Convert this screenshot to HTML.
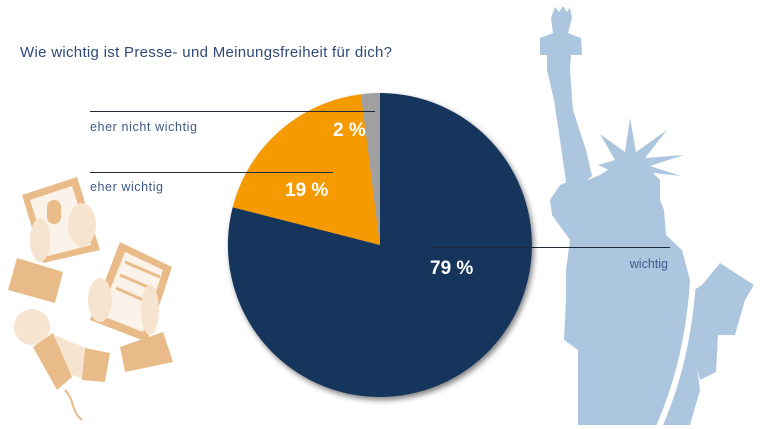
<!DOCTYPE html>
<html><head><meta charset="utf-8"><style>
body{margin:0;background:#fff}
svg{display:block}
text{font-family:"Liberation Sans",sans-serif}
</style></head><body>
<svg width="760" height="429" viewBox="0 0 760 429" xmlns="http://www.w3.org/2000/svg">
<defs><filter id="sh" x="-20%" y="-20%" width="140%" height="140%"><feGaussianBlur in="SourceAlpha" stdDeviation="3"/><feOffset dx="2" dy="3"/><feComponentTransfer><feFuncA type="linear" slope="0.5"/></feComponentTransfer><feMerge><feMergeNode/><feMergeNode in="SourceGraphic"/></feMerge></filter></defs>
<!-- statue -->
<g fill="#adc6e0">
<polygon points="551,18 555,7 559,12 563,6 567,12 570,7 572,18 568,33 581,38 582,55 571,55 570,70 547,70 547,55 540,55 540,38 553,33"/>
<polygon points="547,70 570,70 573,110 586,150 592,176 585,182 566,182 560,140 554,100"/>
<polygon points="560,185 550,200 552,215 570,240 566,270 566,300 564,340 578,350 578,425 690,425 700,390 692,330 690,280 682,250 666,235 664,210 660,200 660,180 640,160 615,165 600,175 588,180 572,180"/>
<polygon points="630,118 636,152 667,130 645,158 684,155 650,166 681,176 645,172 620,175 598,165 615,160 600,134 625,152"/>
<polygon points="702,285 720,263 754,285 745,300 735,335 718,335 716,372 700,380 690,340 694,290"/>
</g>
<path d="M693,280 C690,330 680,380 658,429" stroke="#fff" stroke-width="6" fill="none"/>
<!-- left illustration -->
<g>
<polygon points="22,195 77,177 100,250 43,263" fill="#e9bb88"/>
<polygon points="30,200 72,186 91,245 48,256" fill="#fbf3ea"/>
<rect x="47" y="200" width="14" height="24" rx="7" fill="#e9bb88"/>
<polygon points="17,258 63,272 55,303 8,290" fill="#e9bb88"/>
<ellipse cx="82" cy="225" rx="14" ry="22" fill="#f7e4d0"/>
<ellipse cx="40" cy="240" rx="10" ry="22" fill="#f7e4d0"/>
<polygon points="120,242 172,267 147,342 90,320" fill="#e9bb88"/>
<polygon points="125,252 163,270 143,332 100,315" fill="#fbf3ea"/>
<g stroke="#e9bb88" stroke-width="3"><line x1="125" y1="262" x2="160" y2="277"/><line x1="120" y1="275" x2="155" y2="290"/><line x1="116" y1="288" x2="150" y2="303"/></g>
<ellipse cx="100" cy="300" rx="12" ry="22" fill="#f7e4d0"/>
<ellipse cx="150" cy="310" rx="9" ry="25" fill="#f7e4d0"/>
<polygon points="120,347 163,332 173,362 125,372" fill="#e9bb88"/>
<circle cx="32" cy="327" r="18" fill="#f7e4d0"/>
<polygon points="55,335 90,350 85,380 60,370" fill="#f7e4d0"/>
<polygon points="33,347 53,333 72,377 57,390" fill="#e9bb88"/>
<polygon points="85,348 110,353 105,382 82,380" fill="#e9bb88"/>
<path d="M65,390 C75,400 70,410 82,420" stroke="#e9bb88" stroke-width="2" fill="none"/>
</g>
<!-- pie -->
<g filter="url(#sh)">
<path d="M380,245 L380,93 A152,152 0 1 1 232.7,207.2 Z" fill="#19365c"/>
<path d="M380,245 L232.7,207.2 A152,152 0 0 1 361.0,94.2 Z" fill="#f59a00"/>
<path d="M380,245 L361.0,94.2 A152,152 0 0 1 380,93 Z" fill="#a0a0a0"/>
</g>
<text x="20" y="57" font-size="15" fill="#2d4a7a" textLength="372">Wie wichtig ist Presse- und Meinungsfreiheit für dich?</text>
<g stroke="#1e2a3a" stroke-width="1"><line x1="90" y1="111.5" x2="375" y2="111.5"/><line x1="90" y1="172.5" x2="333" y2="172.5"/><line x1="430" y1="247.5" x2="670" y2="247.5"/></g>
<g font-size="12.5" fill="#3d5a8a"><text x="90" y="131" textLength="107">eher nicht wichtig</text><text x="90" y="191" textLength="73">eher wichtig</text><text x="668" y="268" text-anchor="end">wichtig</text></g>
<g font-size="19" font-weight="bold" fill="#fff"><text x="430" y="274">79 %</text><text x="285" y="196">19 %</text><text x="333" y="136">2 %</text></g>
</svg>
</body></html>
